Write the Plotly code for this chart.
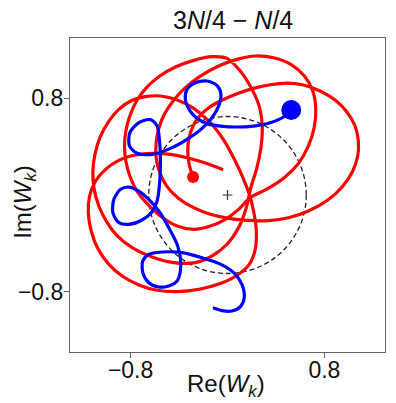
import plotly.graph_objects as go

# ---- data (complex trajectories W_k) ----
red_re = [-0.284, -0.315, -0.328, -0.317, -0.284, -0.230, -0.155, -0.059, 0.078, 0.215,
          0.353, 0.490, 0.627, 0.764, 0.888, 0.984, 1.053, 1.080, 1.075, 1.031,
          0.948, 0.828, 0.668, 0.504, 0.339, 0.174, 0.009, -0.142, -0.279, -0.403,
          -0.499, -0.559, -0.589, -0.589, -0.567, -0.521, -0.449, -0.348, -0.224, -0.073,
          0.078, 0.229, 0.380, 0.523, 0.635, 0.704, 0.729, 0.715, 0.668, 0.586,
          0.468, 0.331, 0.188, 0.092, -0.018, -0.142, -0.279, -0.416, -0.554, -0.663,
          -0.751, -0.806, -0.839, -0.850, -0.839, -0.806, -0.751, -0.669, -0.559, -0.430,
          -0.279, -0.128, -0.004, 0.105, 0.202, 0.265, 0.287, 0.276, 0.243, 0.193,
          0.155, 0.092, -0.004, -0.128, -0.265, -0.444, -0.622, -0.787, -0.910, -0.993,
          -1.062, -1.103, -1.111, -1.094, -1.053, -0.987, -0.897, -0.787, -0.663, -0.554,
          -0.430, -0.279, -0.142, -0.026, 0.064, 0.133, 0.180, 0.215, 0.237, 0.229,
          0.180, 0.083, -0.054, -0.224, -0.416, -0.581, -0.732, -0.869, -0.979, -1.067,
          -1.125, -1.149, -1.138, -1.089, -1.007, -0.897, -0.759, -0.608, -0.471, -0.334,
          -0.183, -0.037]
red_im = [0.149, 0.248, 0.364, 0.475, 0.571, 0.654, 0.723, 0.778, 0.839, 0.883,
          0.913, 0.927, 0.911, 0.861, 0.786, 0.690, 0.571, 0.447, 0.323, 0.193,
          0.069, -0.041, -0.132, -0.188, -0.212, -0.210, -0.193, -0.160, -0.105, -0.028,
          0.069, 0.185, 0.309, 0.433, 0.552, 0.668, 0.778, 0.889, 0.985, 1.068,
          1.123, 1.151, 1.137, 1.082, 0.985, 0.861, 0.709, 0.557, 0.406, 0.262,
          0.143, 0.052, -0.022, -0.119, -0.201, -0.257, -0.284, -0.257, -0.174, -0.072,
          0.039, 0.157, 0.281, 0.406, 0.530, 0.654, 0.778, 0.889, 0.985, 1.060,
          1.115, 1.145, 1.131, 1.026, 0.875, 0.723, 0.557, 0.392, 0.226, 0.061,
          -0.105, -0.270, -0.408, -0.505, -0.560, -0.560, -0.513, -0.436, -0.339, -0.229,
          -0.091, 0.061, 0.199, 0.337, 0.475, 0.599, 0.709, 0.784, 0.817, 0.820,
          0.792, 0.717, 0.599, 0.447, 0.281, 0.130, 0.006, -0.132, -0.284, -0.450,
          -0.574, -0.662, -0.731, -0.778, -0.800, -0.789, -0.745, -0.671, -0.574, -0.450,
          -0.298, -0.146, -0.008, 0.116, 0.212, 0.287, 0.331, 0.345, 0.337, 0.309,
          0.265, 0.210]

blue_re = [0.526, 0.462, 0.353, 0.215, 0.078, -0.059, -0.169, -0.252, -0.312, -0.348,
           -0.334, -0.265, -0.169, -0.087, -0.054, -0.073, -0.128, -0.210, -0.334, -0.471,
           -0.622, -0.746, -0.809, -0.806, -0.732, -0.636, -0.581, -0.562, -0.554, -0.559,
           -0.581, -0.622, -0.705, -0.814, -0.897, -0.946, -0.938, -0.883, -0.814, -0.732,
           -0.650, -0.567, -0.485, -0.416, -0.389, -0.389, -0.416, -0.485, -0.567, -0.650,
           -0.699, -0.699, -0.650, -0.540, -0.375, -0.210, -0.054, 0.051, 0.119, 0.138,
           0.105, 0.037, -0.032, -0.120]
blue_im = [0.704, 0.646, 0.599, 0.571, 0.563, 0.571, 0.591, 0.635, 0.701, 0.792,
           0.875, 0.930, 0.944, 0.908, 0.833, 0.737, 0.640, 0.552, 0.461, 0.386,
           0.337, 0.345, 0.406, 0.516, 0.599, 0.624, 0.571, 0.461, 0.309, 0.116,
           -0.050, -0.138, -0.207, -0.243, -0.229, -0.146, -0.036, 0.047, 0.066, 0.033,
           -0.036, -0.132, -0.270, -0.408, -0.519, -0.629, -0.712, -0.753, -0.762, -0.726,
           -0.643, -0.546, -0.491, -0.472, -0.477, -0.519, -0.574, -0.643, -0.740, -0.850,
           -0.927, -0.960, -0.960, -0.933]

circle_radius = 0.65
tick_vals = [-0.8, 0.8]
tick_text = ["\u22120.8", "0.8"]
axis_range = [-1.3, 1.3]

FONT = "Liberation Sans, Arial, sans-serif"

fig = go.Figure()

fig.add_trace(go.Scatter(x=red_re, y=red_im, mode="lines",
                         line=dict(color="#ff0000", width=3.2, shape="spline", smoothing=0.8),
                         hoverinfo="skip", showlegend=False))
fig.add_trace(go.Scatter(x=blue_re, y=blue_im, mode="lines",
                         line=dict(color="#0000ff", width=3.2, shape="spline", smoothing=0.8),
                         hoverinfo="skip", showlegend=False))
fig.add_trace(go.Scatter(x=[red_re[0]], y=[red_im[0]], mode="markers",
                         marker=dict(color="#ff0000", size=12), showlegend=False))
fig.add_trace(go.Scatter(x=[blue_re[0]], y=[blue_im[0]], mode="markers",
                         marker=dict(color="#0000ff", size=20), showlegend=False))
fig.add_trace(go.Scatter(x=[0], y=[0], mode="markers",
                         marker=dict(symbol="cross-thin", size=7, line=dict(color="#333333", width=1.2)),
                         showlegend=False))

fig.add_shape(type="circle", xref="x", yref="y", x0=-circle_radius, y0=-circle_radius,
              x1=circle_radius, y1=circle_radius, line=dict(color="#222222", width=1.3, dash="5px,3px"),
              layer="below")

axis_common = dict(range=axis_range, tickvals=tick_vals, ticktext=tick_text, showgrid=False, zeroline=False,
                   showline=True, mirror=True, linecolor="#666666", linewidth=1.2, ticks="outside",
                   ticklen=5, tickcolor="#666666", automargin=False,
                   tickfont=dict(family=FONT, size=23, color="#111111"))

# the page body has an 8px margin, so the figure is made smaller and margins shifted
fig.update_layout(
    width=388, height=395, margin=dict(l=62, r=11, t=30, b=51, autoexpand=False),
    paper_bgcolor="white", plot_bgcolor="white",
    xaxis=dict(axis_common, ticklabelstandoff=-8),
    yaxis=dict(axis_common, ticklabelstandoff=-4),
    font=dict(family=FONT),
)

fig.add_annotation(text="3<i>N</i>/4 \u2212 <i>N</i>/4", xref="paper", yref="paper", x=0.516, y=1.058,
                   xanchor="center", yanchor="middle", showarrow=False,
                   font=dict(family=FONT, size=25, color="#111111"))
fig.add_annotation(text="Re(<i>W</i><sub><i>k</i></sub>)", xref="paper", yref="paper", x=0.494, y=-0.108,
                   xanchor="center", yanchor="middle", showarrow=False,
                   font=dict(family=FONT, size=24, color="#111111"))
fig.add_annotation(text="Im(<i>W</i><sub><i>k</i></sub>)", xref="paper", yref="paper", x=-0.143, y=0.478,
                   xanchor="center", yanchor="middle", textangle=-90, showarrow=False,
                   font=dict(family=FONT, size=24, color="#111111"))

fig.write_html("out.html")
